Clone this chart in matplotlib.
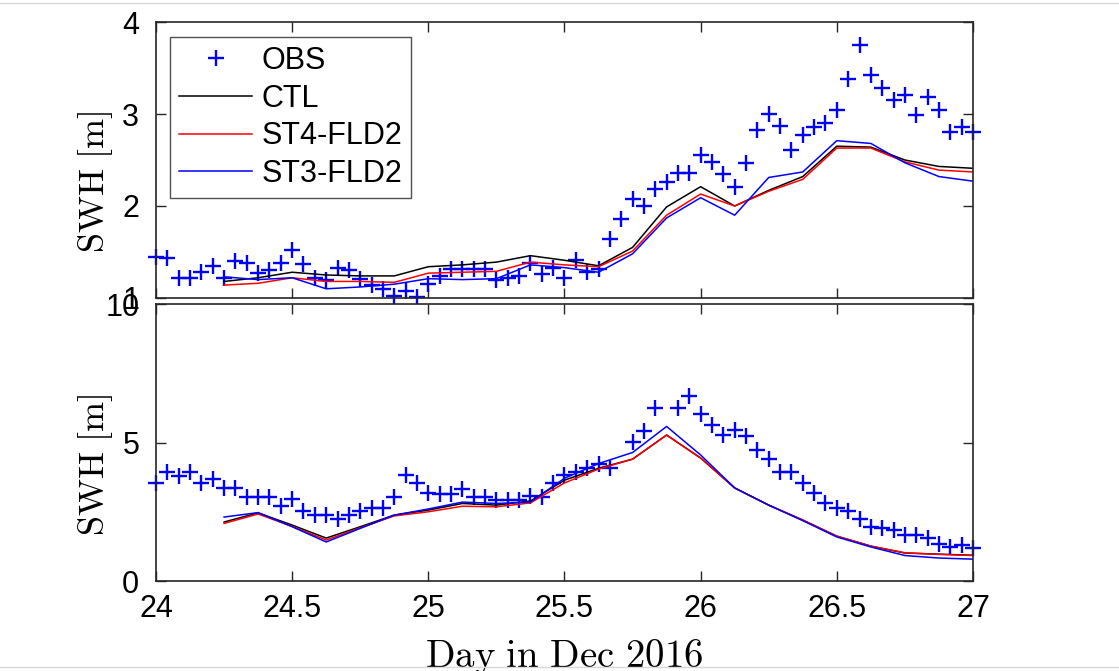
import numpy as np
import matplotlib
matplotlib.use("Agg")
import matplotlib.pyplot as plt
from matplotlib.lines import Line2D

plt.rcParams['font.family'] = ['Liberation Sans', 'DejaVu Sans']
plt.rcParams['mathtext.fontset'] = 'cm'

# hourly buoy observations, 24.0 .. 27.0 (hour index 0..72)
obs_hour = np.arange(73)
obs_top = [1.45, 1.43, 1.22, 1.22, 1.28, 1.35, 1.22, 1.40, 1.38, 1.27,
           1.30, 1.38, 1.52, 1.37, 1.22, 1.20, 1.33, 1.30, 1.21, 1.14,
           1.10, 1.02, 1.08, 1.01, 1.15, 1.24, 1.32, 1.32, 1.32, 1.32,
           1.20, 1.22, 1.24, 1.38, 1.26, 1.33, 1.22, 1.41, 1.28, 1.32,
           1.64, 1.86, 2.08, 2.00, 2.19, 2.26, 2.36, 2.36, 2.55, 2.48,
           2.35, 2.21, 2.47, 2.83, 3.00, 2.87, 2.61, 2.77, 2.86, 2.90,
           3.04, 3.38, 3.75, 3.42, 3.28, 3.15, 3.21, 2.99, 3.18, 3.04,
           2.80, 2.86, 2.80]
obs_bot = [3.54, 3.94, 3.79, 3.94, 3.54, 3.68, 3.36, 3.36, 3.03, 3.03,
           3.03, 2.71, 2.96, 2.53, 2.38, 2.38, 2.24, 2.38, 2.53, 2.64,
           2.64, 3.03, 3.83, 3.54, 3.16, 3.14, 3.14, 3.31, 3.05, 3.05,
           2.92, 2.92, 2.92, 3.07, 3.05, 3.54, 3.83, 3.95, 4.08, 4.22,
           4.07, np.nan, 5.03, 5.42, 6.23, np.nan, 6.23, 6.68, 6.03, 5.63,
           5.27, 5.45, 5.23, 4.73, 4.40, 3.95, 3.95, 3.54, 3.18, 2.82,
           2.64, 2.53, 2.24, 1.96, 1.91, 1.84, 1.66, 1.66, 1.55, 1.34,
           1.23, 1.30, 1.19]

# 3-hourly model output, 24.25 .. 27.0
mod_step = np.arange(23)
ctl_top = [1.18, 1.22, 1.28, 1.25, 1.24, 1.24, 1.34, 1.36, 1.39, 1.46, 1.41, 1.35,
           1.55, 1.99, 2.21, 2.00, 2.17, 2.32, 2.65, 2.64, 2.50, 2.43, 2.41]
st4_top = [1.14, 1.16, 1.22, 1.18, 1.18, 1.17, 1.27, 1.28, 1.29, 1.39, 1.36, 1.34,
           1.51, 1.90, 2.13, 2.00, 2.16, 2.29, 2.63, 2.63, 2.48, 2.39, 2.37]
st3_top = [1.23, 1.20, 1.22, 1.10, 1.12, 1.15, 1.21, 1.20, 1.21, 1.36, 1.33, 1.28,
           1.48, 1.87, 2.09, 1.90, 2.31, 2.37, 2.71, 2.68, 2.47, 2.32, 2.27]
ctl_bot = [2.13, 2.46, 2.02, 1.55, 1.96, 2.38, 2.56, 2.80, 2.74, 2.89, 3.64, 4.07,
           4.40, 5.27, 4.44, 3.36, 2.74, 2.20, 1.62, 1.26, 1.01, 0.97, 0.93]
st4_bot = [2.08, 2.42, 1.97, 1.48, 1.92, 2.35, 2.50, 2.70, 2.68, 2.82, 3.54, 4.04,
           4.40, 5.27, 4.44, 3.36, 2.74, 2.20, 1.62, 1.26, 1.02, 0.96, 0.92]
st3_bot = [2.31, 2.47, 1.96, 1.41, 1.90, 2.38, 2.60, 2.85, 2.80, 2.85, 3.71, 4.24,
           4.64, 5.58, 4.55, 3.36, 2.74, 2.18, 1.59, 1.23, 0.92, 0.83, 0.79]

t_obs = 24 + obs_hour / 24.0
t_mod = 24.25 + mod_step * 0.125

fig = plt.figure(figsize=(11.19, 6.71), dpi=100)
ax1 = fig.add_axes([0.1394, 0.5559, 0.7301, 0.4113])
ax2 = fig.add_axes([0.1394, 0.1341, 0.7301, 0.4128])

axcol = '#262626'
for ax, obs, ctl, st4, st3 in [(ax1, obs_top, ctl_top, st4_top, st3_top),
                               (ax2, obs_bot, ctl_bot, st4_bot, st3_bot)]:
    ax.plot(t_obs, obs, '+', color=(0, 0, 1), ms=12, mew=1.7, label='OBS', clip_on=False)
    ax.plot(t_mod, ctl, color='k', lw=1.1, label='CTL')
    ax.plot(t_mod, st4, color=(1, 0, 0), lw=1.1, label='ST4-FLD2')
    ax.plot(t_mod, st3, color=(0, 0, 1), lw=1.1, label='ST3-FLD2')
    ax.set_xlim(24, 27)
    ax.set_xticks([24, 24.5, 25, 25.5, 26, 26.5, 27])
    ax.tick_params(direction='in', length=7, width=1, colors=axcol, labelcolor='k',
                   top=True, right=True, labelsize=22)
    ax.tick_params(axis='y', pad=12)
    ax.tick_params(axis='x', pad=9)
    for s in ax.spines.values():
        s.set_color(axcol)
        s.set_linewidth(1.2)
    ax.set_ylabel(r'$\mathrm{SWH\ [m]}$', fontsize=26)
    ax.yaxis.set_label_coords(-0.05, 0.42)

ax1.set_ylim(1, 4)
ax1.set_yticks([1, 2, 3, 4])
ax1.tick_params(labelbottom=False)
ax2.set_ylim(0, 10)
ax2.set_yticks([0, 5, 10])
ax2.set_xticklabels(['24', '24.5', '25', '25.5', '26', '26.5', '27'])
ax2.set_xlabel(r'$\mathrm{Day\ in\ Dec\ 2016}$', fontsize=28, labelpad=10)

leg = ax1.legend(loc='upper left', bbox_to_anchor=(0.017, 0.946), borderaxespad=0,
                 fontsize=22, frameon=True, fancybox=False, handlelength=2.4,
                 handletextpad=0.3, labelspacing=0.25, borderpad=0.3)
leg.get_frame().set_edgecolor(axcol)
leg.get_frame().set_linewidth(1.0)

# faint screenshot frame lines
fig.add_artist(Line2D([0, 1], [1 - 3 / 671, 1 - 3 / 671], color='#d8d8d8', lw=1))
fig.add_artist(Line2D([0, 1], [4 / 671, 4 / 671], color='#d8d8d8', lw=1))

fig.savefig('out.png', dpi=100)
